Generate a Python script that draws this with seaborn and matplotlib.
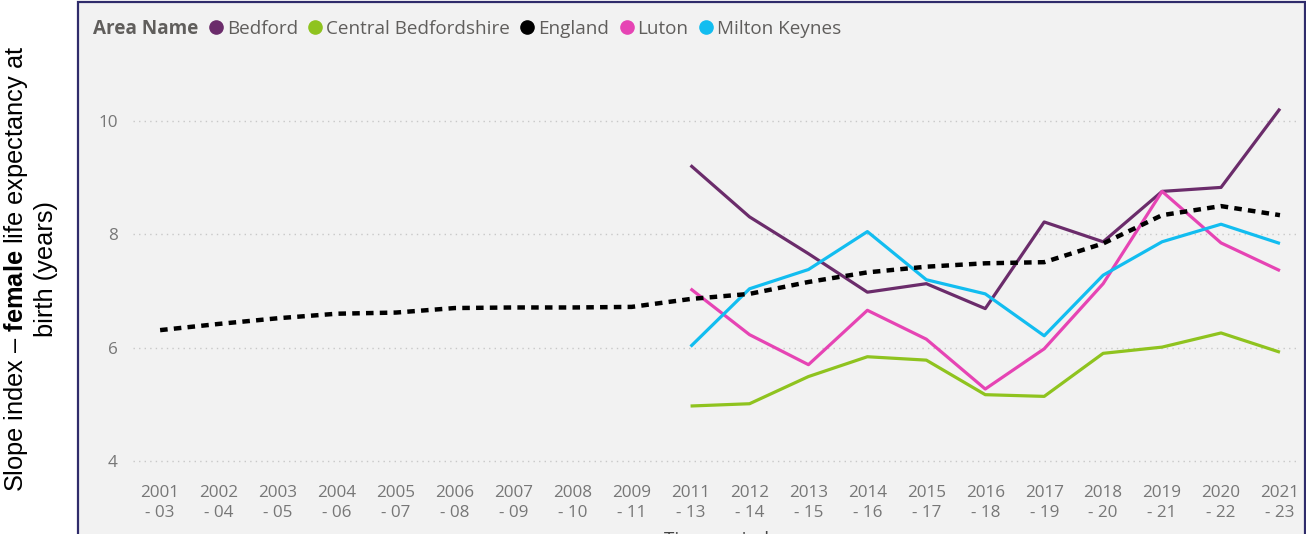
import pandas as pd
import seaborn as sns
import matplotlib.pyplot as plt
from matplotlib.lines import Line2D
from matplotlib.patches import Rectangle

# data
periods = ['2001\n- 03', '2002\n- 04', '2003\n- 05', '2004\n- 06', '2005\n- 07',
           '2006\n- 08', '2007\n- 09', '2008\n- 10', '2009\n- 11', '2011\n- 13',
           '2012\n- 14', '2013\n- 15', '2014\n- 16', '2015\n- 17', '2016\n- 18',
           '2017\n- 19', '2018\n- 20', '2019\n- 21', '2020\n- 22', '2021\n- 23']
england = [6.31, 6.42, 6.52, 6.60, 6.62, 6.70, 6.71, 6.71, 6.72, 6.86,
           6.95, 7.16, 7.33, 7.43, 7.49, 7.51, 7.84, 8.34, 8.50, 8.34]
bedford = [9.22, 8.31, 7.66, 6.98, 7.13, 6.69, 8.22, 7.87, 8.76, 8.83, 10.22]
central_beds = [4.97, 5.01, 5.49, 5.84, 5.78, 5.17, 5.14, 5.90, 6.01, 6.26, 5.92]
luton = [7.04, 6.23, 5.70, 6.66, 6.15, 5.27, 5.98, 7.13, 8.76, 7.85, 7.36]
milton_keynes = [6.02, 7.04, 7.38, 8.05, 7.20, 6.95, 6.21, 7.28, 7.87, 8.18, 7.84]

areas = ['Bedford', 'Central Bedfordshire', 'England', 'Luton', 'Milton Keynes']
colors = ['#6b2c6b', '#8fc31f', '#000000', '#e644b4', '#12bdf0']

# long table, England first so every period is on the axis in order
rows = []
for p, v in zip(periods, england):
    rows.append(('England', p, v))
for name, vals in [('Bedford', bedford), ('Central Bedfordshire', central_beds),
                   ('Luton', luton), ('Milton Keynes', milton_keynes)]:
    for p, v in zip(periods[9:], vals):
        rows.append((name, p, v))
df = pd.DataFrame(rows, columns=['Area Name', 'Time period', 'Slope index'])

sns.set_style('white')
plt.rcParams['font.family'] = ['Open Sans', 'DejaVu Sans']
plt.rcParams['mathtext.fontset'] = 'custom'
plt.rcParams['mathtext.rm'] = 'Liberation Sans'
plt.rcParams['mathtext.bf'] = 'Liberation Sans:bold'

W, H = 1306, 534
fig = plt.figure(figsize=(W / 100, H / 100), dpi=100, facecolor='white')

# grey panel with navy border
panel = Rectangle((78 / W, -0.05), (1304.5 - 78) / W, 1.05 - 1.5 / H,
                  transform=fig.transFigure, facecolor='#f2f2f2',
                  edgecolor='#2f2c6b', linewidth=1.6, zorder=-5)
fig.patches.append(panel)

ax = fig.add_axes([133 / W, 1 - 470 / H, (1300 - 133) / W, (470 - 60) / H])
ax.set_facecolor('none')
ax.set_zorder(2)

sns.lineplot(data=df, x='Time period', y='Slope index', hue='Area Name',
             hue_order=areas, palette=dict(zip(areas, colors)),
             style='Area Name', style_order=areas,
             dashes={'Bedford': '', 'Central Bedfordshire': '', 'England': (1.7, 1.4),
                     'Luton': '', 'Milton Keynes': ''},
             sort=False, legend=False, ax=ax)
for line in ax.lines:
    line.set_linewidth(2.3)
    line.set_solid_capstyle('butt')
eng_line = ax.lines[areas.index('England')]
eng_line.set_linewidth(3.2)
eng_line.set_zorder(3)

ax.set_xlim(-0.46, 19.34)
ax.set_ylim(3.84, 11.08)
ax.set_yticks([4, 6, 8, 10])
ax.grid(axis='y', color='#c8c8c8', linestyle=(0, (1, 3)), linewidth=1)
ax.grid(axis='x', visible=False)
for s in ax.spines.values():
    s.set_visible(False)
ax.tick_params(axis='both', length=0, labelsize=12.3, labelcolor='#777777')
ax.tick_params(axis='x', pad=11)
for t in ax.get_xticklabels():
    t.set_linespacing(1.3)
ax.tick_params(axis='y', pad=11)
ax.set_xlabel('Time period', fontsize=13.5, color='#444444', labelpad=7)
ax.set_ylabel('')

# legend with inline title
handles = [Line2D([], [], linestyle='none')]
labels = ['Area Name']
for a, c in zip(areas, colors):
    handles.append(Line2D([], [], linestyle='none', marker='o', markersize=9.5,
                          markerfacecolor=c, markeredgecolor=c))
    labels.append(a)
leg = fig.legend(handles, labels, loc='upper left', ncol=6,
                 bbox_to_anchor=(75 / W, 1 - 19 / H), frameon=False,
                 borderpad=0, borderaxespad=0, handlelength=0.75,
                 handletextpad=0.2, columnspacing=0.55, fontsize=13.6)
for i, t in enumerate(leg.get_texts()):
    t.set_color('#605e5c')
    if i == 0:
        t.set_fontweight('bold')

fig.text(30 / W, 1 - 269 / H,
         'Slope index – $\\mathbf{female}$ life expectancy at\nbirth (years)',
         rotation=90, ha='center', va='center', ma='center',
         family='Liberation Sans', fontsize=18.3, color='#000000',
         linespacing=1.2)

fig.savefig('out.png', dpi=100, facecolor='white')
